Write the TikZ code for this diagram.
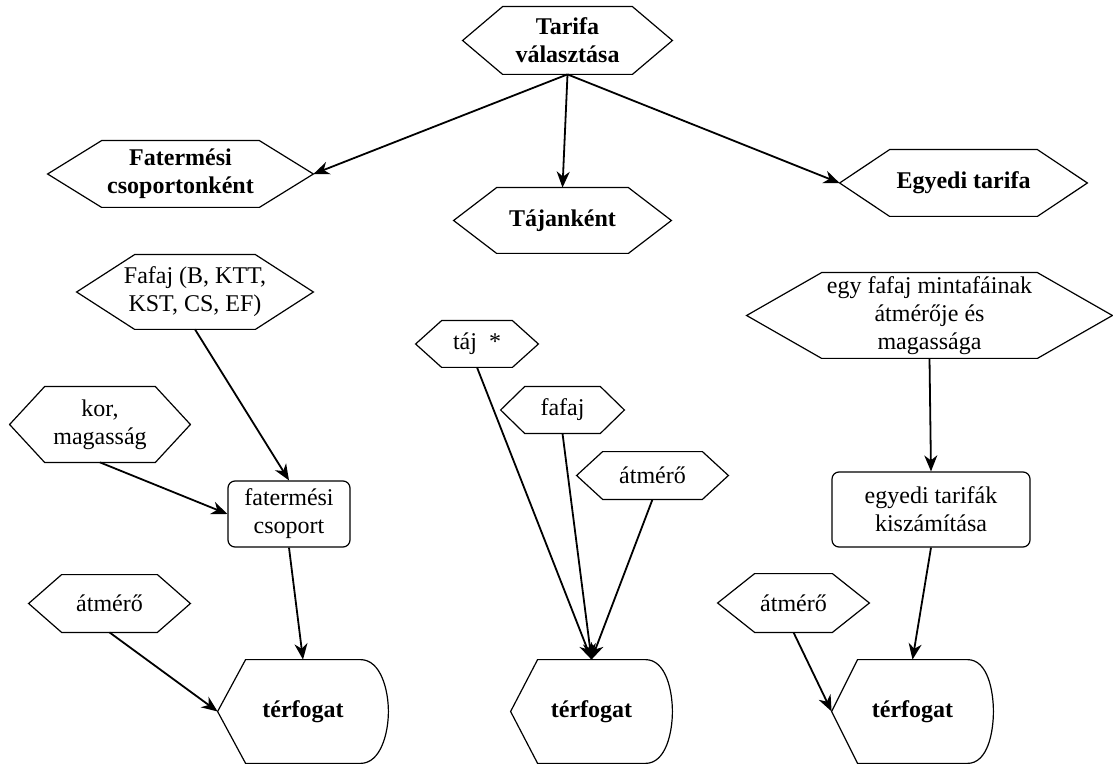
\documentclass[tikz,border=0pt]{standalone}
\usepackage{fontspec}
\setmainfont{Liberation Serif}
\usepackage{tikz}
\usetikzlibrary{arrows.meta}
\tikzset{
  txt/.style={
    rectangle, inner sep=0pt,
    text centered, align=center,
    font=\fontsize{12}{14}\selectfont},
  outline/.style={draw=black, line width=0.6pt},
  rbox/.style={
    txt, draw=black, line width=0.6pt, rounded corners=3.5pt},
  arr/.style={-{Stealth[length=8pt,width=6.5pt,inset=2.5pt]}, line width=0.9pt},
}
% hexagon: [font] name, position, width, height, inset, text
\newcommand{\hexnode}[7][]{%
  \node[txt, minimum width=#4, minimum height=#5, font=\fontsize{12}{14}\selectfont#1] (#2) at #3 {#7};
  \draw[outline] (#2.west) -- ([xshift=#6]#2.north west) -- ([xshift=-#6]#2.north east)
    -- (#2.east) -- ([xshift=-#6]#2.south east) -- ([xshift=#6]#2.south west) -- cycle;}
% display shape: name, position, width, inset
\newcommand{\dispnode}[4]{%
  \node[txt, minimum width=#3, minimum height=51.5pt, font=\fontsize{12}{14}\selectfont\bfseries] (#1) at #2 {térfogat};
  \draw[outline] (#1.west) -- ([xshift=#4]#1.north west) -- ([xshift=-#4]#1.north east)
    to[out=0, in=90, looseness=0.9] (#1.east) to[out=-90, in=0, looseness=0.9] ([xshift=-#4]#1.south east)
    -- ([xshift=#4]#1.south west) -- cycle;}

\begin{document}
\begin{tikzpicture}[x=0.5pt, y=-0.5pt]
  \useasboundingbox (0,0) rectangle (1113,764);

  % top level
  \hexnode[\bfseries]{tarifa}{(567.5,40.5)}{104.5pt}{33.5pt}{20pt}{Tarifa\\választása}
  \hexnode[\bfseries]{fatcsop}{(180.5,174)}{132.5pt}{33pt}{27pt}{Fatermési\\csoportonként}
  \hexnode[\bfseries]{tajankent}{(562.5,220.5)}{108.5pt}{32.5pt}{21.5pt}{Tájanként}
  \hexnode[\bfseries]{egyedi}{(963.5,183)}{123.5pt}{33pt}{25pt}{Egyedi tarifa}

  % left column
  \hexnode{fafajlist}{(195,292)}{118pt}{37pt}{29pt}{Fafaj (B, KTT,\\KST, CS, EF)}
  \hexnode{kor}{(100,424.5)}{90pt}{37.5pt}{17.5pt}{kor,\\magasság}
  \node[rbox, minimum width=61pt, minimum height=33pt] (fcsop) at (289,514) {fatermési\\csoport};
  \hexnode{atmL}{(109.5,603.5)}{80.5pt}{28.5pt}{16.5pt}{átmérő}
  \dispnode{terfL}{(303,711.5)}{85pt}{14pt}

  % middle column
  \hexnode{taj}{(477,344)}{61pt}{23pt}{13pt}{táj~~*}
  \hexnode{fafaj}{(562.5,410)}{61.5pt}{23pt}{12pt}{fafaj}
  \hexnode{atmM}{(652.5,475.5)}{75.5pt}{23.5pt}{13pt}{átmérő}
  \dispnode{terfM}{(591.5,711.5)}{80.5pt}{13.5pt}

  % right column
  \hexnode{minta}{(929.5,315.5)}{182.5pt}{42.5pt}{37.5pt}{egy fafaj mintafáinak\\átmérője és\\magassága}
  \node[rbox, minimum width=99pt, minimum height=37.5pt] (egytar) at (931,509.5) {egyedi tarifák\\kiszámítása};
  \hexnode{atmR}{(793.5,603)}{75.5pt}{29pt}{18.5pt}{átmérő}
  \dispnode{terfR}{(912.5,711.5)}{80.5pt}{13pt}

  \draw[arr] (tarifa.south) -- (fatcsop.east);
  \draw[arr] (tarifa.south) -- (tajankent.north);
  \draw[arr] (tarifa.south) -- (egyedi.west);
  \draw[arr] (fafajlist.south) -- (fcsop.north);
  \draw[arr] (kor.south)  -- (fcsop.west);
  \draw[arr] (fcsop.south) -- (terfL.north);
  \draw[arr] (atmL.south) -- (terfL.west);
  \draw[arr] (taj.south)  -- (terfM.north);
  \draw[arr] (fafaj.south) -- (terfM.north);
  \draw[arr] (atmM.south) -- (terfM.north);
  \draw[arr] (minta.south) -- (egytar.north);
  \draw[arr] (egytar.south) -- (terfR.north);
  \draw[arr] (atmR.south) -- (terfR.west);

\end{tikzpicture}
\end{document}
